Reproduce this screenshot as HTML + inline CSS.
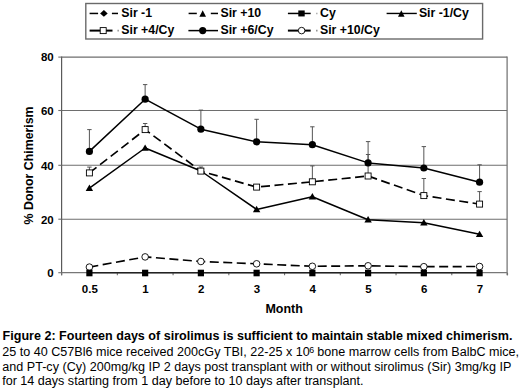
<!DOCTYPE html>
<html><head><meta charset="utf-8"><style>
html,body{margin:0;padding:0;background:#fff;width:520px;height:390px;overflow:hidden}
svg{display:block}
text{font-family:"Liberation Sans",sans-serif}
</style></head><body>
<svg width="520" height="390" viewBox="0 0 520 390">
<rect width="520" height="390" fill="#fff"/>
<line x1="61.6" y1="57.1" x2="507.1" y2="57.1" stroke="#6e6e6e" stroke-width="1.1"/>
<line x1="61.6" y1="110.5" x2="507.1" y2="110.5" stroke="#6e6e6e" stroke-width="1.1"/>
<line x1="61.6" y1="165.3" x2="507.1" y2="165.3" stroke="#6e6e6e" stroke-width="1.1"/>
<line x1="61.6" y1="219.2" x2="507.1" y2="219.2" stroke="#6e6e6e" stroke-width="1.1"/>
<line x1="507.1" y1="56.6" x2="507.1" y2="275.3" stroke="#6e6e6e" stroke-width="1.2"/>
<line x1="61.6" y1="56.6" x2="61.6" y2="275.3" stroke="#5a5a5a" stroke-width="1.2"/>
<line x1="58.3" y1="57.1" x2="61.6" y2="57.1" stroke="#6e6e6e" stroke-width="1.1"/>
<line x1="58.3" y1="110.5" x2="61.6" y2="110.5" stroke="#6e6e6e" stroke-width="1.1"/>
<line x1="58.3" y1="165.3" x2="61.6" y2="165.3" stroke="#6e6e6e" stroke-width="1.1"/>
<line x1="58.3" y1="219.2" x2="61.6" y2="219.2" stroke="#6e6e6e" stroke-width="1.1"/>
<line x1="58.3" y1="272.7" x2="61.6" y2="272.7" stroke="#6e6e6e" stroke-width="1.1"/>
<line x1="61.60" y1="272.7" x2="61.60" y2="275.3" stroke="#6e6e6e" stroke-width="1.1"/>
<line x1="117.34" y1="272.7" x2="117.34" y2="275.3" stroke="#6e6e6e" stroke-width="1.1"/>
<line x1="173.08" y1="272.7" x2="173.08" y2="275.3" stroke="#6e6e6e" stroke-width="1.1"/>
<line x1="228.82" y1="272.7" x2="228.82" y2="275.3" stroke="#6e6e6e" stroke-width="1.1"/>
<line x1="284.56" y1="272.7" x2="284.56" y2="275.3" stroke="#6e6e6e" stroke-width="1.1"/>
<line x1="340.30" y1="272.7" x2="340.30" y2="275.3" stroke="#6e6e6e" stroke-width="1.1"/>
<line x1="396.04" y1="272.7" x2="396.04" y2="275.3" stroke="#6e6e6e" stroke-width="1.1"/>
<line x1="451.78" y1="272.7" x2="451.78" y2="275.3" stroke="#6e6e6e" stroke-width="1.1"/>
<line x1="507.52" y1="272.7" x2="507.52" y2="275.3" stroke="#6e6e6e" stroke-width="1.1"/>
<line x1="61.6" y1="272.7" x2="507.1" y2="272.7" stroke="#777" stroke-width="1.2"/>
<line x1="89.40" y1="151.4" x2="89.40" y2="129.6" stroke="#555" stroke-width="1"/><line x1="87.20" y1="129.6" x2="91.60" y2="129.6" stroke="#555" stroke-width="1"/><line x1="145.14" y1="99.2" x2="145.14" y2="84.6" stroke="#555" stroke-width="1"/><line x1="142.94" y1="84.6" x2="147.34" y2="84.6" stroke="#555" stroke-width="1"/><line x1="200.88" y1="129.2" x2="200.88" y2="110.1" stroke="#555" stroke-width="1"/><line x1="198.68" y1="110.1" x2="203.08" y2="110.1" stroke="#555" stroke-width="1"/><line x1="256.62" y1="141.8" x2="256.62" y2="119.3" stroke="#555" stroke-width="1"/><line x1="254.42" y1="119.3" x2="258.82" y2="119.3" stroke="#555" stroke-width="1"/><line x1="312.36" y1="144.7" x2="312.36" y2="126.8" stroke="#555" stroke-width="1"/><line x1="310.16" y1="126.8" x2="314.56" y2="126.8" stroke="#555" stroke-width="1"/><line x1="368.10" y1="162.9" x2="368.10" y2="141.6" stroke="#555" stroke-width="1"/><line x1="365.90" y1="141.6" x2="370.30" y2="141.6" stroke="#555" stroke-width="1"/><line x1="423.84" y1="168.0" x2="423.84" y2="146.6" stroke="#555" stroke-width="1"/><line x1="421.64" y1="146.6" x2="426.04" y2="146.6" stroke="#555" stroke-width="1"/><line x1="479.58" y1="182.2" x2="479.58" y2="164.8" stroke="#555" stroke-width="1"/><line x1="477.38" y1="164.8" x2="481.78" y2="164.8" stroke="#555" stroke-width="1"/>
<line x1="89.40" y1="172.9" x2="89.40" y2="167.1" stroke="#555" stroke-width="1"/><line x1="87.20" y1="167.1" x2="91.60" y2="167.1" stroke="#555" stroke-width="1"/><line x1="145.14" y1="129.6" x2="145.14" y2="123.5" stroke="#555" stroke-width="1"/><line x1="142.94" y1="123.5" x2="147.34" y2="123.5" stroke="#555" stroke-width="1"/><line x1="200.88" y1="171.1" x2="200.88" y2="167.0" stroke="#555" stroke-width="1"/><line x1="198.68" y1="167.0" x2="203.08" y2="167.0" stroke="#555" stroke-width="1"/><line x1="312.36" y1="181.8" x2="312.36" y2="165.9" stroke="#555" stroke-width="1"/><line x1="310.16" y1="165.9" x2="314.56" y2="165.9" stroke="#555" stroke-width="1"/><line x1="368.10" y1="176.0" x2="368.10" y2="154.5" stroke="#555" stroke-width="1"/><line x1="365.90" y1="154.5" x2="370.30" y2="154.5" stroke="#555" stroke-width="1"/><line x1="423.84" y1="195.6" x2="423.84" y2="178.5" stroke="#555" stroke-width="1"/><line x1="421.64" y1="178.5" x2="426.04" y2="178.5" stroke="#555" stroke-width="1"/><line x1="479.58" y1="204.1" x2="479.58" y2="191.6" stroke="#555" stroke-width="1"/><line x1="477.38" y1="191.6" x2="481.78" y2="191.6" stroke="#555" stroke-width="1"/>
<polyline points="89.40,272.7 145.14,272.7 200.88,272.7 256.62,272.7 312.36,272.7 368.10,272.7 423.84,272.7 479.58,272.7" fill="none" stroke="#222" stroke-width="1.4" stroke-linejoin="round"/>
<polyline points="89.40,188.2 145.14,148.0 200.88,171.0 256.62,209.4 312.36,196.7 368.10,219.7 423.84,222.7 479.58,234.3" fill="none" stroke="#000" stroke-width="1.5" stroke-linejoin="round"/>
<path d="M89.40 184.60L93.10 191.00L85.70 191.00Z" fill="#000"/><path d="M145.14 144.40L148.84 150.80L141.44 150.80Z" fill="#000"/><path d="M200.88 167.40L204.58 173.80L197.18 173.80Z" fill="#000"/><path d="M256.62 205.80L260.32 212.20L252.92 212.20Z" fill="#000"/><path d="M312.36 193.10L316.06 199.50L308.66 199.50Z" fill="#000"/><path d="M368.10 216.10L371.80 222.50L364.40 222.50Z" fill="#000"/><path d="M423.84 219.10L427.54 225.50L420.14 225.50Z" fill="#000"/><path d="M479.58 230.70L483.28 237.10L475.88 237.10Z" fill="#000"/>
<polyline points="89.40,172.9 145.14,129.6 200.88,171.1 256.62,187.1 312.36,181.8 368.10,176.0 423.84,195.6 479.58,204.1" fill="none" stroke="#000" stroke-width="1.65" stroke-dasharray="9 4.5" stroke-linejoin="round"/>
<rect x="86.40" y="169.90" width="6.0" height="6.0" fill="#fff" stroke="#000" stroke-width="0.9"/><rect x="142.14" y="126.60" width="6.0" height="6.0" fill="#fff" stroke="#000" stroke-width="0.9"/><rect x="197.88" y="168.10" width="6.0" height="6.0" fill="#fff" stroke="#000" stroke-width="0.9"/><rect x="253.62" y="184.10" width="6.0" height="6.0" fill="#fff" stroke="#000" stroke-width="0.9"/><rect x="309.36" y="178.80" width="6.0" height="6.0" fill="#fff" stroke="#000" stroke-width="0.9"/><rect x="365.10" y="173.00" width="6.0" height="6.0" fill="#fff" stroke="#000" stroke-width="0.9"/><rect x="420.84" y="192.60" width="6.0" height="6.0" fill="#fff" stroke="#000" stroke-width="0.9"/><rect x="476.58" y="201.10" width="6.0" height="6.0" fill="#fff" stroke="#000" stroke-width="0.9"/>
<polyline points="89.40,151.4 145.14,99.2 200.88,129.2 256.62,141.8 312.36,144.7 368.10,162.9 423.84,168.0 479.58,182.2" fill="none" stroke="#000" stroke-width="1.5" stroke-linejoin="round"/>
<circle cx="89.40" cy="151.4" r="3.6" fill="#000"/><circle cx="145.14" cy="99.2" r="3.6" fill="#000"/><circle cx="200.88" cy="129.2" r="3.6" fill="#000"/><circle cx="256.62" cy="141.8" r="3.6" fill="#000"/><circle cx="312.36" cy="144.7" r="3.6" fill="#000"/><circle cx="368.10" cy="162.9" r="3.6" fill="#000"/><circle cx="423.84" cy="168.0" r="3.6" fill="#000"/><circle cx="479.58" cy="182.2" r="3.6" fill="#000"/>
<polyline points="89.40,267.1 145.14,256.9 200.88,261.5 256.62,263.8 312.36,266.3 368.10,265.8 423.84,266.7 479.58,266.5" fill="none" stroke="#000" stroke-width="1.65" stroke-dasharray="9 4.5" stroke-linejoin="round"/>
<circle cx="89.40" cy="267.1" r="3.3" fill="#fff" stroke="#000" stroke-width="0.9"/><circle cx="145.14" cy="256.9" r="3.3" fill="#fff" stroke="#000" stroke-width="0.9"/><circle cx="200.88" cy="261.5" r="3.3" fill="#fff" stroke="#000" stroke-width="0.9"/><circle cx="256.62" cy="263.8" r="3.3" fill="#fff" stroke="#000" stroke-width="0.9"/><circle cx="312.36" cy="266.3" r="3.3" fill="#fff" stroke="#000" stroke-width="0.9"/><circle cx="368.10" cy="265.8" r="3.3" fill="#fff" stroke="#000" stroke-width="0.9"/><circle cx="423.84" cy="266.7" r="3.3" fill="#fff" stroke="#000" stroke-width="0.9"/><circle cx="479.58" cy="266.5" r="3.3" fill="#fff" stroke="#000" stroke-width="0.9"/>
<rect x="86.30" y="269.70" width="6.2" height="6.6" fill="#000"/><rect x="142.04" y="269.70" width="6.2" height="6.6" fill="#000"/><rect x="197.78" y="269.70" width="6.2" height="6.6" fill="#000"/><rect x="253.52" y="269.70" width="6.2" height="6.6" fill="#000"/><rect x="309.26" y="269.70" width="6.2" height="6.6" fill="#000"/><rect x="365.00" y="269.70" width="6.2" height="6.6" fill="#000"/><rect x="420.74" y="269.70" width="6.2" height="6.6" fill="#000"/><rect x="476.48" y="269.70" width="6.2" height="6.6" fill="#000"/>
<text x="53.7" y="61.4" text-anchor="end" font-size="11.5" font-weight="bold">80</text>
<text x="53.7" y="114.8" text-anchor="end" font-size="11.5" font-weight="bold">60</text>
<text x="53.7" y="169.6" text-anchor="end" font-size="11.5" font-weight="bold">40</text>
<text x="53.7" y="223.5" text-anchor="end" font-size="11.5" font-weight="bold">20</text>
<text x="53.7" y="277.0" text-anchor="end" font-size="11.5" font-weight="bold">0</text>
<text x="89.80" y="293.2" text-anchor="middle" font-size="11.5" font-weight="bold">0.5</text>
<text x="145.54" y="293.2" text-anchor="middle" font-size="11.5" font-weight="bold">1</text>
<text x="201.28" y="293.2" text-anchor="middle" font-size="11.5" font-weight="bold">2</text>
<text x="257.02" y="293.2" text-anchor="middle" font-size="11.5" font-weight="bold">3</text>
<text x="312.76" y="293.2" text-anchor="middle" font-size="11.5" font-weight="bold">4</text>
<text x="368.50" y="293.2" text-anchor="middle" font-size="11.5" font-weight="bold">5</text>
<text x="424.24" y="293.2" text-anchor="middle" font-size="11.5" font-weight="bold">6</text>
<text x="479.98" y="293.2" text-anchor="middle" font-size="11.5" font-weight="bold">7</text>
<text x="265.4" y="313.2" font-size="12.2" font-weight="bold" textLength="37.4" lengthAdjust="spacingAndGlyphs">Month</text>
<text transform="translate(33.3,224.4) rotate(-90)" font-size="12.2" font-weight="bold" textLength="118" lengthAdjust="spacingAndGlyphs">% Donor Chimerism</text>
<rect x="85.8" y="3.5" width="396.8" height="35.5" fill="none" stroke="#6a6a6a" stroke-width="1.4"/>
<line x1="89.60" y1="13.45" x2="98.10" y2="13.45" stroke="#000" stroke-width="1.5"/>
<line x1="111.90" y1="13.45" x2="118.00" y2="13.45" stroke="#000" stroke-width="1.5"/>
<path d="M103.90 10.05L107.70 13.45L103.90 16.85L100.10 13.45Z" fill="#000"/>
<line x1="188.60" y1="13.45" x2="196.80" y2="13.45" stroke="#000" stroke-width="1.5"/>
<line x1="210.80" y1="13.45" x2="218.00" y2="13.45" stroke="#000" stroke-width="1.5"/>
<path d="M202.70 10.15L206.00 16.75L199.40 16.75Z" fill="#000"/>
<line x1="287.90" y1="13.45" x2="310.70" y2="13.45" stroke="#000" stroke-width="1.5"/>
<line x1="316.10" y1="13.45" x2="317.50" y2="13.45" stroke="#aaa" stroke-width="1.5"/>
<rect x="298.30" y="10.45" width="6.4" height="6.0" fill="#000"/>
<line x1="386.60" y1="13.45" x2="416.80" y2="13.45" stroke="#000" stroke-width="1.4"/>
<path d="M401.30 10.15L404.60 16.75L398.00 16.75Z" fill="#000"/>
<line x1="89.60" y1="30.6" x2="112.50" y2="30.6" stroke="#000" stroke-width="2.0"/>
<line x1="117.50" y1="30.6" x2="118.80" y2="30.6" stroke="#888" stroke-width="1.6"/>
<rect x="100.20" y="27.60" width="6.0" height="6.0" fill="#fff" stroke="#000" stroke-width="0.9"/>
<line x1="188.40" y1="30.6" x2="218.00" y2="30.6" stroke="#000" stroke-width="1.5"/>
<circle cx="202.70" cy="30.6" r="3.6" fill="#000"/>
<line x1="287.90" y1="30.6" x2="310.70" y2="30.6" stroke="#000" stroke-width="2.0"/>
<line x1="316.10" y1="30.6" x2="317.50" y2="30.6" stroke="#888" stroke-width="1.6"/>
<circle cx="301.60" cy="30.6" r="3.3" fill="#fff" stroke="#000" stroke-width="0.9"/>
<text x="121.3" y="16.6" font-size="12.3" font-weight="bold">Sir -1</text>
<text x="220.5" y="16.6" font-size="12.3" font-weight="bold">Sir +10</text>
<text x="320.0" y="16.6" font-size="12.3" font-weight="bold">Cy</text>
<text x="418.90000000000003" y="16.6" font-size="12.3" font-weight="bold">Sir -1/Cy</text>
<text x="121.3" y="33.8" font-size="12.3" font-weight="bold">Sir +4/Cy</text>
<text x="220.5" y="33.8" font-size="12.3" font-weight="bold">Sir +6/Cy</text>
<text x="320.0" y="33.8" font-size="12.3" font-weight="bold">Sir +10/Cy</text>
<text x="2.6" y="340" font-size="12.3" font-weight="bold" textLength="509.8" lengthAdjust="spacingAndGlyphs">Figure 2: Fourteen days of sirolimus is sufficient to maintain stable mixed chimerism.</text>
<text x="2.3" y="355.5" font-size="12.3" textLength="307.4" lengthAdjust="spacingAndGlyphs">25 to 40 C57Bl6 mice received 200cGy TBI, 22-25 x 10</text>
<text x="309.2" y="353.2" font-size="8.8">6</text>
<text x="317.3" y="355.5" font-size="12.3" textLength="201.8" lengthAdjust="spacingAndGlyphs">bone marrow cells from BalbC mice,</text>
<text x="2.3" y="370.8" font-size="12.3" textLength="509" lengthAdjust="spacingAndGlyphs">and PT-cy (Cy) 200mg/kg IP 2 days post transplant with or without sirolimus (Sir) 3mg/kg IP</text>
<text x="2.2" y="385.4" font-size="12.3" textLength="361.2" lengthAdjust="spacingAndGlyphs">for 14 days starting from 1 day before to 10 days after transplant.</text>
</svg></body></html>
